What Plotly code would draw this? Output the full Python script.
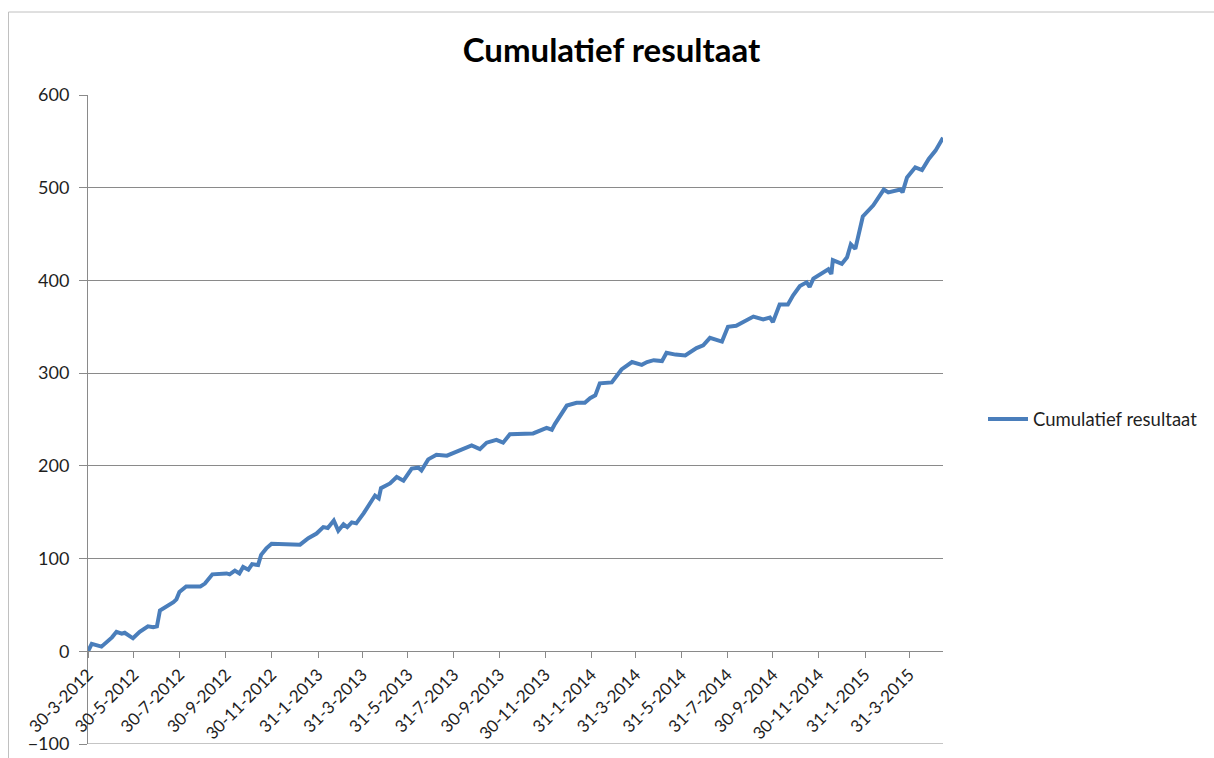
import plotly.graph_objects as go

dates = [
    "2012-03-30", "2012-04-04", "2012-04-17", "2012-05-01", "2012-05-07", "2012-05-14", "2012-05-18",
    "2012-05-29", "2012-06-07", "2012-06-18", "2012-06-25", "2012-06-30", "2012-07-04", "2012-07-13",
    "2012-07-22", "2012-07-26", "2012-07-30", "2012-08-08", "2012-08-27", "2012-09-02", "2012-09-12",
    "2012-10-01", "2012-10-05", "2012-10-12", "2012-10-18", "2012-10-23", "2012-10-30", "2012-11-04",
    "2012-11-12", "2012-11-16", "2012-11-23", "2012-11-30", "2013-01-07", "2013-01-18", "2013-01-29",
    "2013-02-07", "2013-02-13", "2013-02-21", "2013-02-27", "2013-03-06", "2013-03-11", "2013-03-17",
    "2013-03-23", "2013-04-02", "2013-04-09", "2013-04-17", "2013-04-22", "2013-04-25", "2013-05-07",
    "2013-05-16", "2013-05-25", "2013-06-05", "2013-06-14", "2013-06-18", "2013-06-27", "2013-07-08",
    "2013-07-22", "2013-08-04", "2013-08-24", "2013-09-04", "2013-09-13", "2013-09-26", "2013-10-05",
    "2013-10-14", "2013-11-14", "2013-12-02", "2013-12-09", "2013-12-13", "2013-12-29", "2014-01-11",
    "2014-01-22", "2014-01-29", "2014-02-05", "2014-02-11", "2014-02-27", "2014-03-12", "2014-03-26",
    "2014-04-08", "2014-04-15", "2014-04-24", "2014-05-05", "2014-05-11", "2014-05-23", "2014-06-05",
    "2014-06-20", "2014-06-29", "2014-07-08", "2014-07-24", "2014-08-01", "2014-08-12", "2014-09-04",
    "2014-09-17", "2014-09-26", "2014-09-30", "2014-10-05", "2014-10-09", "2014-10-20", "2014-10-27",
    "2014-11-05", "2014-11-14", "2014-11-18", "2014-11-23", "2014-12-13", "2014-12-17", "2014-12-19",
    "2014-12-31", "2015-01-07", "2015-01-12", "2015-01-18", "2015-01-28", "2015-02-11", "2015-02-25",
    "2015-03-03", "2015-03-19", "2015-03-22", "2015-03-28", "2015-04-08", "2015-04-17", "2015-04-26",
    "2015-05-05", "2015-05-15",
]
values = [
    0, 8, 5, 15, 21, 19, 20,
    14, 21, 27, 26, 27, 44, 48,
    53, 56, 64, 70, 70, 73, 83,
    84, 83, 87, 84, 91, 88, 94,
    93, 104, 111, 116, 115, 122, 127,
    134, 133, 141, 130, 137, 134, 139,
    138, 149, 157, 168, 165, 176, 181,
    188, 184, 197, 198, 195, 207, 212,
    211, 215, 222, 218, 225, 228, 225,
    234, 235, 241, 239, 245, 265, 268,
    268, 273, 276, 289, 290, 304, 312,
    309, 312, 314, 313, 322, 320, 319,
    327, 330, 338, 334, 350, 351, 361,
    358, 360, 355, 367, 374, 374, 384,
    394, 398, 393, 402, 412, 407, 422,
    418, 425, 439, 434, 469, 481, 498,
    495, 498, 495, 511, 522, 519, 531,
    540, 554,
]

tick_dates = [
    "2012-03-30", "2012-05-30", "2012-07-30", "2012-09-30", "2012-11-30", "2013-01-31", "2013-03-31",
    "2013-05-31", "2013-07-31", "2013-09-30", "2013-11-30", "2014-01-31", "2014-03-31", "2014-05-31",
    "2014-07-31", "2014-09-30", "2014-11-30", "2015-01-31", "2015-03-31",
]
tick_labels = [
    "30-3-2012", "30-5-2012", "30-7-2012", "30-9-2012", "30-11-2012", "31-1-2013", "31-3-2013",
    "31-5-2013", "31-7-2013", "30-9-2013", "30-11-2013", "31-1-2014", "31-3-2014", "31-5-2014",
    "31-7-2014", "30-9-2014", "30-11-2014", "31-1-2015", "31-3-2015",
]
y_ticks = [-100, 0, 100, 200, 300, 400, 500, 600]

series_name = "Cumulatief resultaat"
title_text = "Cumulatief resultaat"

FONT = "Lato, 'Open Sans', sans-serif"
GRID = "#8a8a8a"
TXT = "#1f1f1f"

W, H = 1214, 758
PL, PR, PT, PB = 88, 943, 95, 744  # plot area in page px
PW, PH = PR - PL, PB - PT

fig = go.Figure()
fig.add_trace(go.Scatter(
    x=dates, y=values, mode="lines", name=series_name,
    line=dict(color="#4a7ebb", width=4),
))

fig.update_layout(
    width=W, height=H,
    margin=dict(l=PL, r=W - PR, t=PT, b=H - PB, autoexpand=False),
    paper_bgcolor="white", plot_bgcolor="white",
    font=dict(family=FONT, size=17, color=TXT),
    title=dict(
        text="<b>" + title_text + "</b>",
        xref="container", x=611.5 / W, xanchor="center",
        yref="container", y=1 - 50 / H, yanchor="middle",
        font=dict(family=FONT, size=33, color="#000000"),
    ),
    showlegend=True,
    legend=dict(
        x=(983 - PL) / PW, xanchor="left", y=0.5, yanchor="middle",
        font=dict(family=FONT, size=18.5, color=TXT),
        bgcolor="rgba(0,0,0,0)",
        itemwidth=40,
    ),
    xaxis=dict(
        type="date",
        range=["2012-03-30", "2015-05-15"],
        tickmode="array", tickvals=tick_dates, ticktext=tick_labels,
        tickangle=-45,
        ticks="outside", ticklen=6, tickcolor=GRID, tickwidth=1,
        showline=True, linecolor=GRID, linewidth=1,
        showgrid=False, zeroline=False,
        anchor="free", position=(744 - 651) / 649,
        tickfont=dict(family=FONT, size=17, color=TXT),
        ticklabeloverflow="allow",
    ),
    yaxis=dict(
        range=[-100, 600],
        tickmode="array", tickvals=y_ticks,
        ticks="outside", ticklen=8, tickcolor=GRID, tickwidth=1,
        showline=True, linecolor=GRID, linewidth=1,
        showgrid=True, gridcolor=GRID, gridwidth=1,
        zeroline=False,
        ticklabelstandoff=6,
        ticklabeloverflow="allow",
        tickfont=dict(family=FONT, size=18, color=TXT),
    ),
    shapes=[
        dict(type="line", xref="paper", yref="y", x0=0, x1=1, y0=-100, y1=-100,
             line=dict(color=GRID, width=1)),
        dict(type="line", xref="paper", yref="paper",
             x0=(8.5 - PL) / PW, x1=(W - PL) / PW, y0=(PB - 12) / PH, y1=(PB - 12) / PH,
             line=dict(color="#c0c0c0", width=1)),
        dict(type="line", xref="paper", yref="paper",
             x0=(8.5 - PL) / PW, x1=(8.5 - PL) / PW, y0=(PB - 12) / PH, y1=(PB - H - 10) / PH,
             line=dict(color="#c0c0c0", width=1)),
    ],
)

fig.write_html(
    "out.html",
    config={"displayModeBar": False},
    post_script="document.body.style.margin='0px';document.body.style.overflow='hidden';",
)
